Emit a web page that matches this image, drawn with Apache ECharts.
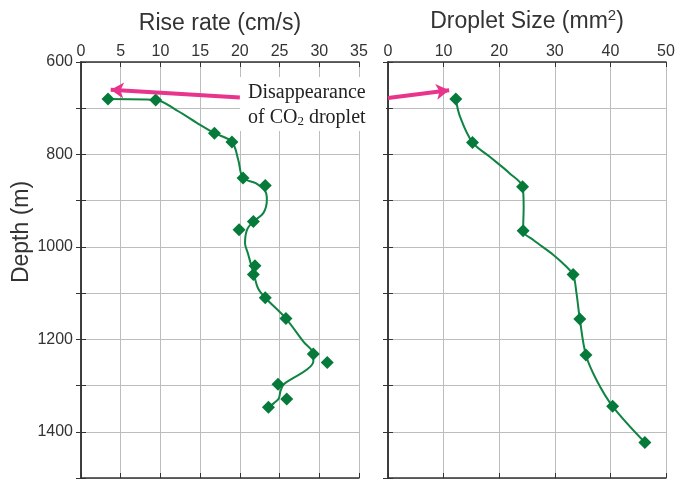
<!DOCTYPE html>
<html>
<head>
<meta charset="utf-8">
<script src="https://cdn.jsdelivr.net/npm/echarts@6/dist/echarts.min.js"></script>
<style>
html,body{margin:0;padding:0;background:#fff;}
#c{width:686px;height:479px;}
</style>
</head>
<body>
<div id="c"></div>
<script>
// ---- Data ----
// Left panel: rise rate (cm/s) vs depth (m), markers
const riseRate  = [3.4, 9.4, 16.8, 19.0, 20.4, 23.2, 21.7, 19.9, 21.9, 21.7, 23.2, 25.8, 29.25, 31.0, 24.8, 25.9, 23.6];
const riseDepth = [680, 682, 754, 773, 851, 867, 945, 963, 1041, 1060, 1110, 1155, 1232, 1250, 1297, 1329, 1347];
// Left panel: fitted curve
const riseCurveRate  = [3.4, 9.4, 12.0, 15.0, 16.8, 19.0, 19.8, 20.4, 22.0, 23.2, 23.4, 22.95, 21.7, 20.9, 20.65, 21.0, 21.45, 21.85, 22.3, 23.2, 25.8, 28.0, 29.25, 29.25, 28.4, 26.7, 25.5, 25.1, 24.9, 24.3, 23.6];
const riseCurveDepth = [680, 682, 704, 736, 754, 773, 812, 851, 862, 880, 898, 927, 945, 963, 992, 1013, 1041, 1065, 1090, 1110, 1155, 1205, 1232, 1248, 1266, 1284, 1298, 1313, 1328, 1338, 1347];
// Right panel: droplet size (mm^2) vs depth (m), markers
const dropSize  = [12.2, 15.2, 24.2, 24.3, 33.3, 34.5, 35.6, 40.4, 46.2];
const dropDepth = [680, 774, 870, 965, 1060, 1156, 1234, 1345, 1423];
// Right panel: curve
const dropCurveSize  = [12.2, 12.95, 15.2, 18.3, 21.9, 24.2, 24.4, 24.3, 26.15, 29.7, 32.1, 33.3, 33.9, 34.5, 35.6, 37.5, 40.4, 46.2];
const dropCurveDepth = [680, 718, 774, 805, 841, 870, 913, 965, 985, 1017, 1043, 1060, 1100, 1156, 1234, 1288, 1345, 1423];
// Axis ticks
const riseTicks = {min: 0, max: 35, interval: 5};
const sizeTicks = {min: 0, max: 50, interval: 10};
const depthTicks = {min: 600, max: 1500, interval: 100, labelStep: 200};
// Annotation arrows: [from, to] in data coordinates
const leftArrow  = [[20.0, 677], [3.74, 660]];
const rightArrow = [[0.0, 678], [11.0, 661]];

const pairs = (xs, ys) => xs.map((x, i) => [x, ys[i]]);

const frame = {show: true, lineStyle: {color: '#333', width: 1.5}};
const tickIn = {show: true, inside: true, length: 5, lineStyle: {color: '#333', width: 1}};
const grayGrid = {show: true, lineStyle: {color: '#bdbdbd', width: 1}};
const labelStyle = {fontFamily: 'Liberation Sans', fontSize: 16, color: '#333'};
const GREEN = '#067a3a';
const LINEGREEN = '#0f8443';
const MAGENTA = '#e8348c';

function xAx(grid, ticks, pos, main, name) {
  return Object.assign({
    gridIndex: grid, type: 'value', position: pos,
    min: ticks.min, max: ticks.max, interval: ticks.interval,
    axisLine: frame, axisTick: tickIn,
    axisLabel: main ? Object.assign({margin: 2}, labelStyle) : {show: false},
    splitLine: main ? grayGrid : {show: false}
  }, main ? {
    name: name, nameLocation: 'middle', nameGap: 27,
    nameTextStyle: {fontFamily: 'Liberation Sans', fontSize: 23, color: '#333',
      rich: {sup: {fontFamily: 'Liberation Sans', fontSize: 15, color: '#333', padding: [0, 0, 12, 0]}}}
  } : {});
}
function yAx(grid, pos, labels, split) {
  return {
    gridIndex: grid, type: 'value', position: pos, inverse: true,
    min: depthTicks.min, max: depthTicks.max, interval: depthTicks.interval,
    axisLine: frame, axisTick: tickIn,
    axisLabel: labels ? Object.assign({margin: 8,
      formatter: v => (v % depthTicks.labelStep === 0 && v < depthTicks.max) ? String(v) : ''}, labelStyle) : {show: false},
    splitLine: split ? grayGrid : {show: false}
  };
}

const arrowLine = (a) => ({
  silent: true, symbol: ['none', 'arrow'], symbolSize: [12, 13],
  label: {show: false},
  lineStyle: {color: MAGENTA, width: 4, type: 'solid'},
  data: [[{coord: a[0]}, {coord: a[1]}]]
});

const chart = echarts.init(document.getElementById('c'), null, {renderer: 'canvas'});
chart.setOption({
  animation: false,
  backgroundColor: '#fff',
  grid: [
    {left: 81, right: 327, top: 62, bottom: 1, containLabel: false, outerBoundsMode: 'none'},
    {left: 388, right: 20, top: 62, bottom: 1, containLabel: false, outerBoundsMode: 'none'}
  ],
  xAxis: [
    xAx(0, riseTicks, 'top', true, 'Rise rate (cm/s)'),
    xAx(0, riseTicks, 'bottom', false),
    xAx(1, sizeTicks, 'top', true, 'Droplet Size (mm{sup|2})'),
    xAx(1, sizeTicks, 'bottom', false)
  ],
  yAxis: [
    yAx(0, 'left', true, true),
    yAx(0, 'right', false, false),
    yAx(1, 'left', false, true),
    yAx(1, 'right', false, false)
  ],
  series: [
    {type: 'line', xAxisIndex: 0, yAxisIndex: 0, data: pairs(riseCurveRate, riseCurveDepth),
     smooth: 0.35, showSymbol: false, lineStyle: {color: LINEGREEN, width: 2}, z: 2,
     markLine: arrowLine(leftArrow)},
    {type: 'scatter', xAxisIndex: 0, yAxisIndex: 0, data: pairs(riseRate, riseDepth),
     symbol: 'diamond', symbolSize: 13, itemStyle: {color: GREEN, opacity: 1}, z: 3},
    {type: 'line', xAxisIndex: 2, yAxisIndex: 2, data: pairs(dropCurveSize, dropCurveDepth),
     smooth: 0.35, showSymbol: false, lineStyle: {color: LINEGREEN, width: 2}, z: 2,
     markLine: arrowLine(rightArrow)},
    {type: 'scatter', xAxisIndex: 2, yAxisIndex: 2, data: pairs(dropSize, dropDepth),
     symbol: 'diamond', symbolSize: 13, itemStyle: {color: GREEN, opacity: 1}, z: 3}
  ],
  graphic: [
    {type: 'rect', z: 100, shape: {x: 240, y: 77, width: 146, height: 54},
     style: {fill: '#fff', stroke: null}},
    {type: 'text', z: 101, left: 248, top: 80,
     style: {text: 'Disappearance\nof CO{sub|2} droplet', fill: '#222',
       font: '20px "Liberation Serif"', lineHeight: 25,
       rich: {sub: {fontFamily: 'Liberation Serif', fontSize: 13, fill: '#222', padding: [9, 0, 0, 0]}}}},
    {type: 'text', z: 100, x: 22, y: 232, rotation: Math.PI / 2,
     style: {text: 'Depth (m)', fill: '#333', font: '23px "Liberation Sans"',
       textAlign: 'center', textVerticalAlign: 'middle'}}
  ]
});
</script>
</body>
</html>
